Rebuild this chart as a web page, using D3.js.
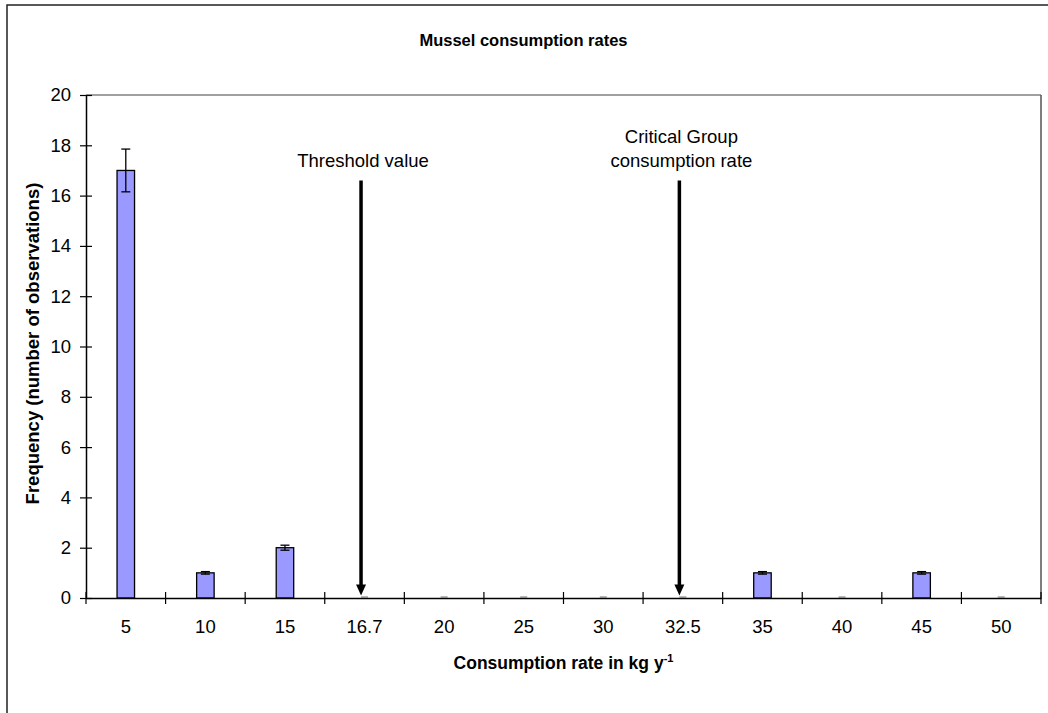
<!DOCTYPE html>
<html><head><meta charset="utf-8">
<script src="https://cdn.jsdelivr.net/npm/d3@7"></script>
<style>
html,body{margin:0;padding:0;background:#fff;}
svg{display:block;font-family:"Liberation Sans",Arial,sans-serif;}
</style></head>
<body>
<svg id="chart" width="1048" height="713"></svg>
<script>
const categories = ["5","10","15","16.7","20","25","30","32.5","35","40","45","50"];
const frequency = [17,1,2,0,0,0,0,0,1,0,1,0];
const errors = [0.85,0.05,0.1,0,0,0,0,0,0.05,0,0.05,0];
const yTicks = [0,2,4,6,8,10,12,14,16,18,20];
const annotations = [
  {cat:"16.7", lines:["Threshold value"], from:16.6, to:0.1},
  {cat:"32.5", lines:["Critical Group","consumption rate"], from:16.6, to:0.1}
];

const svg = d3.select("#chart");
const m = {left:86, top:95, right:1041, bottom:598};

// outer frame
svg.append("rect").attr("x",7).attr("y",5).attr("width",1060).attr("height",730)
  .attr("fill","none").attr("stroke","#222").attr("stroke-width",1.5);

const x = d3.scaleBand().domain(categories).range([m.left,m.right]).padding(0);
const y = d3.scaleLinear().domain([0,20]).range([m.bottom,m.top]);

// plot frame top & right
svg.append("line").attr("x1",m.left).attr("x2",m.right).attr("y1",m.top).attr("y2",m.top)
  .attr("stroke","#808080").attr("stroke-width",1.5);
svg.append("line").attr("x1",m.right).attr("x2",m.right).attr("y1",m.top).attr("y2",m.bottom)
  .attr("stroke","#555").attr("stroke-width",1.5);

const bw = 17.5;
const data = categories.map((c,i)=>({c, v:frequency[i], e:errors[i]}));

// bars
svg.append("g").selectAll("rect").data(data.filter(d=>d.v>0)).join("rect")
  .attr("x",d=>x(d.c)+x.bandwidth()/2-bw/2).attr("width",bw)
  .attr("y",d=>y(d.v)).attr("height",d=>y(0)-y(d.v))
  .attr("fill","#9999FF").attr("stroke","#000").attr("stroke-width",1.3);

// error bars
const eg = svg.append("g").attr("stroke","#000").attr("stroke-width",1.3);
data.forEach(d=>{
  const cx = x(d.c)+x.bandwidth()/2;
  if(d.v>0){
    eg.append("line").attr("x1",cx).attr("x2",cx).attr("y1",y(d.v+d.e)).attr("y2",y(d.v-d.e));
    [d.v+d.e,d.v-d.e].forEach(v=>eg.append("line").attr("x1",cx-4.5).attr("x2",cx+4.5).attr("y1",y(v)).attr("y2",y(v)));
  } else {
    svg.append("line").attr("x1",cx-3.5).attr("x2",cx+3.5).attr("y1",y(0)-1).attr("y2",y(0)-1)
      .attr("stroke","#888").attr("stroke-width",1.2);
  }
});

// y axis
const yAxis = svg.append("g").attr("transform",`translate(${m.left},0)`)
  .call(d3.axisLeft(y).tickValues(yTicks).tickSizeInner(6).tickSizeOuter(0).tickPadding(9));
yAxis.select(".domain").attr("stroke","#000").attr("stroke-width",1.5);
yAxis.selectAll(".tick line").attr("x2",6).attr("x1",-6).attr("stroke","#000").attr("stroke-width",1.2);
yAxis.selectAll(".tick text").attr("font-size",18.5).attr("fill","#000")
  .attr("font-family","Liberation Sans, Arial, sans-serif").attr("x",-15);

// x axis
const xAxis = svg.append("g").attr("transform",`translate(0,${m.bottom})`)
  .call(d3.axisBottom(x).tickSize(0).tickPadding(22));
xAxis.select(".domain").attr("stroke","#000").attr("stroke-width",1.5);
xAxis.selectAll(".tick text").attr("font-size",18.5).attr("fill","#000")
  .attr("font-family","Liberation Sans, Arial, sans-serif");
// category boundary ticks
const bounds = categories.map(c=>x(c)).concat([m.right]);
svg.append("g").selectAll("line").data(bounds).join("line")
  .attr("x1",d=>d).attr("x2",d=>d).attr("y1",m.bottom-6).attr("y2",m.bottom+6)
  .attr("stroke","#000").attr("stroke-width",1.2);

// titles
svg.append("text").attr("x",(m.left+m.right)/2-40).attr("y",46).attr("text-anchor","middle")
  .attr("font-weight","bold").attr("font-size",16.5).text("Mussel consumption rates");

const xt = svg.append("text").attr("x",(m.left+m.right)/2).attr("y",669).attr("text-anchor","middle")
  .attr("font-weight","bold").attr("font-size",17.5);
xt.append("tspan").text("Consumption rate in kg y");
xt.append("tspan").attr("dy",-7).attr("font-size",11).text("-1");

svg.append("text").attr("transform",`translate(39,${(m.top+m.bottom)/2-3}) rotate(-90)`)
  .attr("text-anchor","middle").attr("font-weight","bold").attr("font-size",18.5)
  .text("Frequency (number of observations)");

// annotations with arrows
annotations.forEach(a=>{
  const cx = x(a.cat)+x.bandwidth()/2-3.5;
  const t = svg.append("text").attr("text-anchor","middle").attr("font-size",18.5);
  const n = a.lines.length;
  a.lines.forEach((l,i)=>t.append("tspan").attr("x",cx+2).attr("y",167-(n-1-i)*24.5).text(l));
  const y1 = y(a.from), y2 = y(a.to);
  svg.append("line").attr("x1",cx).attr("x2",cx).attr("y1",y1).attr("y2",y2-9)
    .attr("stroke","#000").attr("stroke-width",3.5);
  svg.append("path").attr("d",`M${cx-5},${y2-11} L${cx+5},${y2-11} L${cx},${y2} Z`).attr("fill","#000");
});
</script>
</body></html>
